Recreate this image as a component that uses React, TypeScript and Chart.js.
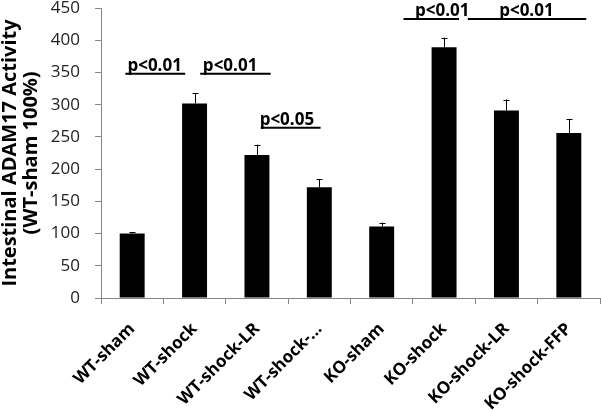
import React, { useEffect, useRef } from "react";
import { Chart, registerables } from "chart.js";

Chart.register(...registerables);

const categories = ["WT-sham", "WT-shock", "WT-shock-LR", "WT-shock-...", "KO-sham", "KO-shock", "KO-shock-LR", "KO-shock-FFP"];
const values = [100, 302, 222, 172, 111, 389, 291, 256];
const errors = [2, 16, 16, 12, 6, 15, 17, 22];

const sigLabels = ["p<0.01", "p<0.01", "p<0.05", "p<0.01", "p<0.01"];
const sigStart = [-0.11, 1.09, 2.06, 4.35, 5.38];
const sigEnd = [0.85, 2.22, 3.02, 5.24, 7.28];
const sigTextAt = [0.36, 1.57, 2.48, 4.97, 6.32];
const sigLevel = [348, 348, 264, 433, 433];

const yTicksMax = 450;
const yStep = 50;

const FONT = "'Open Sans', 'Liberation Sans', sans-serif";

const overlayPlugin = {
  id: "overlay",
  afterDatasetsDraw(chart: any) {
    const ctx = chart.ctx;
    const x = chart.scales.x;
    const y = chart.scales.y;
    const meta = chart.getDatasetMeta(0);
    ctx.save();
    ctx.strokeStyle = "#000";
    ctx.lineWidth = 1;
    meta.data.forEach((bar: any, i: number) => {
      const cx = Math.round(bar.x) + 0.5;
      const top = y.getPixelForValue(values[i] + errors[i]);
      const base = y.getPixelForValue(values[i]);
      ctx.beginPath();
      ctx.moveTo(cx, base);
      ctx.lineTo(cx, top);
      ctx.moveTo(cx - 3, Math.round(top) + 0.5);
      ctx.lineTo(cx + 3, Math.round(top) + 0.5);
      ctx.stroke();
    });
    ctx.lineWidth = 2;
    ctx.fillStyle = "#000";
    ctx.font = `bold 17px ${FONT}`;
    ctx.textAlign = "center";
    ctx.textBaseline = "alphabetic";
    sigLabels.forEach((lab, i) => {
      const yy = y.getPixelForValue(sigLevel[i]);
      ctx.beginPath();
      ctx.moveTo(x.getPixelForValue(sigStart[i]), yy);
      ctx.lineTo(x.getPixelForValue(sigEnd[i]), yy);
      ctx.stroke();
      ctx.fillText(lab, x.getPixelForValue(sigTextAt[i]), yy - 3);
    });
    ctx.restore();
  },
};

export default function App() {
  const ref = useRef<HTMLCanvasElement>(null);
  useEffect(() => {
    if (!ref.current) return;
    const chart = new Chart(ref.current, {
      type: "bar",
      data: {
        labels: categories,
        datasets: [
          {
            data: values,
            backgroundColor: "#000",
            borderWidth: 0,
            barPercentage: 0.4,
            categoryPercentage: 1,
          },
        ],
      },
      options: {
        responsive: false,
        animation: false,
        layout: { padding: { top: 0, right: 1, left: 0, bottom: 0 } },
        plugins: { legend: { display: false }, tooltip: { enabled: false } },
        scales: {
          x: {
            offset: true,
            afterFit: (s: any) => {
              s.height = 112;
              s.paddingLeft = 0;
              s.paddingRight = 0;
            },
            grid: { display: true, offset: true, drawOnChartArea: false, drawTicks: true, tickLength: 6, color: "#868686" },
            border: { color: "#868686", width: 1 },
            ticks: {
              maxRotation: 45,
              minRotation: 45,
              autoSkip: false,
              color: "#000",
              font: { family: FONT, size: 17, weight: "bold" },
              padding: 15,
            },
          },
          y: {
            min: 0,
            max: yTicksMax,
            afterFit: (s: any) => {
              s.width = 101;
              s.paddingTop = 8;
              s.paddingBottom = 0;
            },
            grid: { display: true, drawOnChartArea: false, drawTicks: true, tickLength: 6, color: "#868686" },
            border: { color: "#868686", width: 1 },
            ticks: {
              stepSize: yStep,
              color: "#222",
              font: { family: FONT, size: 17 },
              padding: 15,
            },
            title: {
              display: true,
              text: ["Intestinal ADAM17 Activity", "(WT-sham 100%)"],
              color: "#000",
              font: { family: FONT, size: 20, weight: "bold", lineHeight: 1.05 },
              padding: { top: 0, bottom: 8 },
            },
          },
        },
      },
      plugins: [overlayPlugin],
    });
    return () => chart.destroy();
  }, []);
  return (
    <div style={{ position: "absolute", left: 0, top: 0, width: 601, height: 410, background: "#fff" }}>
      <canvas ref={ref} width={601} height={410} />
    </div>
  );
}
